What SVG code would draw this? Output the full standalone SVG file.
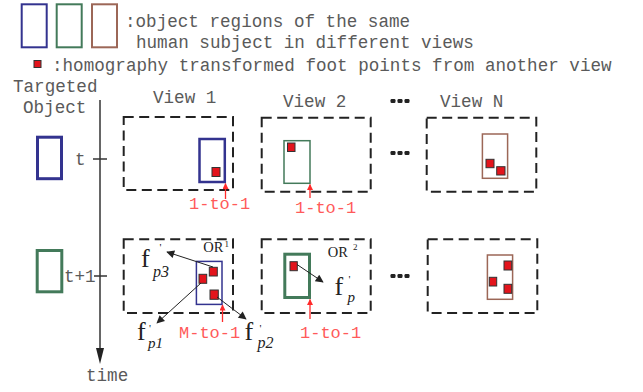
<svg xmlns="http://www.w3.org/2000/svg" width="643" height="392" viewBox="0 0 643 392">
  <defs>
    <style>
      .mono { font-family: "Liberation Mono", "DejaVu Sans Mono", monospace; font-size: 17.6px; fill: #5a5a5a; }
      .red { font-family: "Liberation Mono", "DejaVu Sans Mono", monospace; font-size: 17px; fill: #ff5a5a; }
      .serif { font-family: "Liberation Serif", "Times New Roman", serif; fill: #222; }
      .ital { font-style: italic; }
      .dash { fill: none; stroke: #222; stroke-width: 2; stroke-dasharray: 10 5.5; }
      .blue { fill: none; stroke: #33338f; }
      .green { fill: none; stroke: #437a5a; }
      .brown { fill: none; stroke: #9c6757; }
      .pt { fill: #e3141c; stroke: #333; stroke-width: 1; }
      .arr { stroke: #222; stroke-width: 1; fill: none; }
      .rarr { stroke: #ff2a2a; stroke-width: 1.3; fill: none; }
      .dot { fill: #222; }
    </style>
    <marker id="ah" viewBox="0 0 10 10" refX="9" refY="5" markerWidth="10" markerHeight="8" markerUnits="userSpaceOnUse" orient="auto">
      <path d="M0,0 L10,5 L0,10 Z" fill="#222"/>
    </marker>
    <marker id="rah" viewBox="0 0 10 10" refX="9" refY="5" markerWidth="8" markerHeight="6" markerUnits="userSpaceOnUse" orient="auto">
      <path d="M0,0 L10,5 L0,10 Z" fill="#ff2a2a"/>
    </marker>
  </defs>

  <!-- Legend -->
  <g id="legend">
    <rect class="blue" x="21.7" y="4.3" width="25" height="43" stroke-width="2"/>
    <rect class="green" x="56.7" y="4.3" width="25" height="43" stroke-width="2"/>
    <rect class="brown" x="92" y="4.3" width="25" height="43" stroke-width="2"/>
    <text class="mono" x="125" y="27">:object regions of the same</text>
    <text class="mono" x="136" y="48">human subject in different views</text>
    <rect class="pt" x="34" y="60.5" width="7" height="7"/>
    <text class="mono" x="52" y="71">:homography transformed foot points from another view</text>
  </g>

  <!-- Time axis -->
  <g id="time-axis">
    <text class="mono" x="13" y="92">Targeted</text>
    <text class="mono" x="23" y="113">Object</text>
    <line x1="100" y1="100" x2="100" y2="350" stroke="#333" stroke-width="1.5"/>
    <polygon points="96,348 104,348 100,364" fill="#222"/>
    <text class="mono" x="86" y="381">time</text>
    <line x1="93" y1="159" x2="107" y2="159" stroke="#333" stroke-width="1.5"/>
    <text class="mono" x="75" y="165">t</text>
    <line x1="94" y1="276" x2="107" y2="276" stroke="#333" stroke-width="1.5"/>
    <text class="mono" x="64" y="282">t+1</text>
  </g>

  <!-- Targeted objects -->
  <g id="target-t">
    <rect class="blue" x="37.5" y="137.2" width="24" height="41.5" stroke-width="3"/>
  </g>
  <g id="target-t1">
    <rect class="green" x="37.2" y="250.5" width="24.6" height="41.3" stroke-width="3"/>
  </g>

  <!-- View headers -->
  <g id="headers">
    <text class="mono" x="153" y="103">View 1</text>
    <text class="mono" x="283" y="106.5">View 2</text>
    <text class="mono" x="440" y="106.5">View N</text>
    <g class="dot">
      <rect x="390.5" y="99" width="5" height="4" rx="1.2"/>
      <rect x="397.5" y="99" width="5" height="4" rx="1.2"/>
      <rect x="404.5" y="99" width="5" height="4" rx="1.2"/>
    </g>
  </g>

  <!-- Row t -->
  <g id="v1-t">
    <rect class="dash" x="123.7" y="117" width="109.3" height="73"/>
    <rect class="blue" x="199.5" y="139" width="25.3" height="43" stroke-width="2.5"/>
    <rect class="pt" x="212" y="167.5" width="8" height="9"/>
  </g>
  <g id="v2-t">
    <rect class="dash" x="261.7" y="117.7" width="109" height="74"/>
    <rect class="green" x="284" y="140.7" width="26" height="42.6" stroke-width="1.5"/>
    <rect class="pt" x="287.5" y="143" width="7.5" height="8.5"/>
  </g>
  <g id="dots-t" class="dot">
    <rect x="390.5" y="151" width="5" height="4" rx="1.2"/>
    <rect x="397.5" y="151" width="5" height="4" rx="1.2"/>
    <rect x="404.5" y="151" width="5" height="4" rx="1.2"/>
  </g>
  <g id="vn-t">
    <rect class="dash" x="426.7" y="117.7" width="109.6" height="74"/>
    <rect class="brown" x="482.4" y="134" width="25.2" height="44.3" stroke-width="1.5"/>
    <rect class="pt" x="486" y="159.3" width="8" height="8.4"/>
    <rect class="pt" x="496.7" y="166.7" width="8.3" height="8.3"/>
  </g>

  <!-- Row t+1 -->
  <g id="v1-t1">
    <rect class="dash" x="123.7" y="239.3" width="109.3" height="73.7"/>
    <rect class="blue" x="196.4" y="261.4" width="25.6" height="43" stroke-width="1.5"/>
    <rect class="pt" x="209.3" y="267.3" width="8" height="8.7"/>
    <rect class="pt" x="199" y="274.3" width="7.7" height="9"/>
    <rect class="pt" x="210" y="290" width="8.3" height="9.3"/>
    <text class="serif" x="203.3" y="252" font-size="14.5">OR<tspan x="224.5" y="247" font-size="9">1</tspan></text>
  </g>
  <g id="v2-t1">
    <rect class="dash" x="261.7" y="239.3" width="109" height="73.7"/>
    <rect class="green" x="284.8" y="254.2" width="24.7" height="43.3" stroke-width="3"/>
    <rect class="pt" x="290" y="261.7" width="7.3" height="9"/>
    <text class="serif" x="327.7" y="256.5" font-size="14.5">OR<tspan x="353" y="249.5" font-size="9">2</tspan></text>
  </g>
  <g id="dots-t1" class="dot">
    <rect x="390.5" y="274" width="5" height="4" rx="1.2"/>
    <rect x="397.5" y="274" width="5" height="4" rx="1.2"/>
    <rect x="404.5" y="274" width="5" height="4" rx="1.2"/>
  </g>
  <g id="vn-t1">
    <rect class="dash" x="427.7" y="239.3" width="109.6" height="73.7"/>
    <rect class="brown" x="487.4" y="255" width="25.2" height="44.3" stroke-width="1.5"/>
    <rect class="pt" x="504" y="261" width="7.7" height="9"/>
    <rect class="pt" x="489.3" y="277.3" width="7.4" height="8.7"/>
    <rect class="pt" x="504" y="284.3" width="7.7" height="9"/>
  </g>

  <!-- Foot point labels -->
  <g id="label-fp3">
    <text class="serif" x="141" y="267" font-size="26">f<tspan x="159.5" y="251" font-size="11">'</tspan><tspan class="ital" x="153" y="277" font-size="16">p3</tspan></text>
  </g>
  <g id="label-fp1">
    <text class="serif" x="137" y="340" font-size="26">f<tspan x="149" y="332" font-size="11">'</tspan><tspan class="ital" x="148" y="347.5" font-size="15">p1</tspan></text>
  </g>
  <g id="label-fp2">
    <text class="serif" x="244.5" y="340" font-size="26">f<tspan x="259.5" y="332" font-size="11">'</tspan><tspan class="ital" x="257.5" y="347.5" font-size="16">p2</tspan></text>
  </g>
  <g id="label-fp">
    <text class="serif" x="334.5" y="295" font-size="26">f<tspan x="348.5" y="283" font-size="11">'</tspan><tspan class="ital" x="347.5" y="302" font-size="15">p</tspan></text>
  </g>

  <!-- Association labels -->
  <g id="assoc-labels">
    <text class="red" x="189" y="209">1-to-1</text>
    <text class="red" x="295" y="213">1-to-1</text>
    <text class="red" x="179" y="338">M-to-1</text>
    <text class="red" x="300" y="338">1-to-1</text>
  </g>

  <!-- Connectors -->
  <g id="connectors">
    <line class="arr" x1="213" y1="267" x2="167" y2="252" marker-end="url(#ah)"/>
    <line class="arr" x1="201" y1="283" x2="157" y2="323" marker-end="url(#ah)"/>
    <line class="arr" x1="217" y1="297" x2="246" y2="319" marker-end="url(#ah)"/>
    <line class="arr" x1="297" y1="264.5" x2="323" y2="282" marker-end="url(#ah)"/>
    <line class="rarr" x1="225.5" y1="199" x2="225.5" y2="183.5" marker-end="url(#rah)"/>
    <line class="rarr" x1="310" y1="198" x2="310" y2="184.5" marker-end="url(#rah)"/>
    <line class="rarr" x1="222.5" y1="322" x2="222.5" y2="305" marker-end="url(#rah)"/>
    <line class="rarr" x1="310" y1="319" x2="310" y2="299.5" marker-end="url(#rah)"/>
  </g>
</svg>
